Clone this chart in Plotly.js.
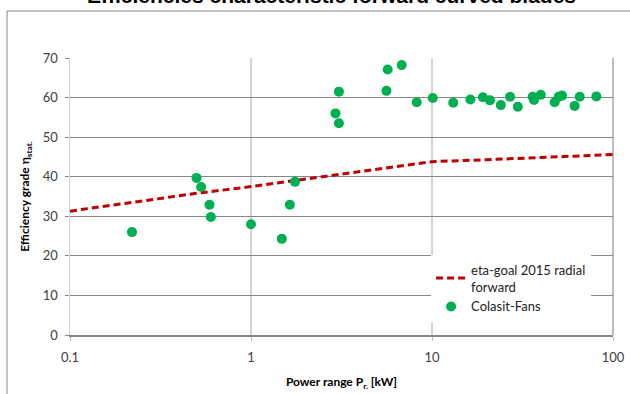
<!DOCTYPE html>
<html>
<head>
<meta charset="utf-8">
<script src="https://cdn.plot.ly/plotly-3.0.1.min.js"></script>
<style>html,body{margin:0;padding:0;background:#fff;}#chart{width:630px;height:394px;}</style>
</head>
<body>
<div id="chart"></div>
<script>
// eta-goal 2015 radial forward (target line)
const goalPower = [0.1, 0.2, 0.5, 1, 2, 5, 10, 20, 50, 100];
const goalEta   = [31.3, 33.2, 35.8, 37.5, 39.4, 41.9, 43.8, 44.3, 45.1, 45.6];

// Colasit-Fans measurements
const fanPower = [0.22, 0.50, 0.53, 0.59, 0.60, 1.0, 1.48, 1.64, 1.75,
                  2.93, 3.06, 3.06, 5.6, 5.69, 6.8, 8.23, 10.1, 13.1, 16.3,
                  19.1, 20.9, 24.0, 27.0, 29.8, 36.0, 36.6, 39.9, 47.6, 50.1,
                  52.3, 61.4, 65.5, 80.9];
const fanEta   = [26.0, 39.7, 37.4, 32.9, 29.8, 28.0, 24.3, 32.9, 38.7,
                  56.0, 61.5, 53.5, 61.7, 67.1, 68.2, 58.8, 59.9, 58.7, 59.5,
                  60.1, 59.3, 58.1, 60.2, 57.7, 60.2, 59.4, 60.7, 58.8, 60.2,
                  60.5, 57.9, 60.2, 60.3];

const xTickVals = [0.1, 1, 10, 100];
const xTickText = ['0.1', '1', '10', '100'];
const yTickVals = [0, 10, 20, 30, 40, 50, 60, 70];

const titleText = 'Efficiencies characteristic forward curved blades';

const font = 'Lato, "Open Sans", sans-serif';

const traces = [
  {
    x: goalPower, y: goalEta, type: 'scatter', mode: 'lines',
    name: 'eta-goal 2015 radial<br>forward',
    line: {color: '#C00000', width: 3, dash: '7px,4px'},
    hoverinfo: 'skip'
  },
  {
    x: fanPower, y: fanEta, type: 'scatter', mode: 'markers',
    name: 'Colasit-Fans',
    marker: {color: '#00B050', size: 10}
  }
];

const layout = {
  width: 630, height: 394,
  margin: {l: 70, r: 17, t: 58, b: 59},
  paper_bgcolor: '#fff', plot_bgcolor: '#fff',
  font: {family: font, size: 12, color: '#404040'},
  xaxis: {
    type: 'log', range: [-1, 2],
    tickvals: xTickVals, ticktext: xTickText,
    showgrid: true, gridcolor: '#d4d4d4', gridwidth: 1.5,
    showline: true, linecolor: '#868686', linewidth: 2,
    ticks: 'outside', ticklen: 4, tickcolor: '#bdbdbd',
    ticklabelstandoff: 5,
    tickfont: {family: font, size: 13, color: '#404040'},
    zeroline: false,
    title: {text: '<b>Power range P<sub>r.</sub> [kW]</b>', font: {family: font, size: 12, color: '#000'}, standoff: 14},
    fixedrange: true
  },
  yaxis: {
    range: [0, 70], tickvals: yTickVals,
    showgrid: true, gridcolor: '#868686', gridwidth: 1,
    showline: true, linecolor: '#d4d4d4', linewidth: 1.5,
    ticks: 'outside', ticklen: 4, tickcolor: '#868686',
    ticklabelstandoff: 4,
    tickfont: {family: font, size: 13, color: '#404040'},
    zeroline: false,
    title: {text: '<b>Efficiency grade η<sub>stat.</sub></b>', font: {family: font, size: 12, color: '#000'}, standoff: 10},
    fixedrange: true
  },
  showlegend: true,
  legend: {
    x: 0.665, y: 0.29, xanchor: 'left', yanchor: 'top',
    bgcolor: '#fff', borderwidth: 0,
    font: {family: font, size: 13, color: '#222'},
    tracegroupgap: 2
  },
  annotations: [
    {text: '<b>' + titleText + '</b>', xref: 'paper', yref: 'paper',
     x: 0.482, y: 1.177, xanchor: 'center', yanchor: 'bottom', showarrow: false,
     font: {family: 'Liberation Sans, Arial, sans-serif', size: 21, color: '#000'}}
  ],
  shapes: [
    {type: 'rect', xref: 'paper', yref: 'paper', x0: -0.116, x1: 1.2, y0: -0.3, y1: 1.1697,
     line: {color: '#868686', width: 1}, fillcolor: 'rgba(0,0,0,0)', layer: 'below'},
    {type: 'line', xref: 'paper', yref: 'paper', x0: 1, x1: 1, y0: 0, y1: 1,
     line: {color: '#a6a6a6', width: 1.5}, layer: 'below'}
  ]
};

Plotly.newPlot('chart', traces, layout, {displayModeBar: false, staticPlot: true});
</script>
</body>
</html>
